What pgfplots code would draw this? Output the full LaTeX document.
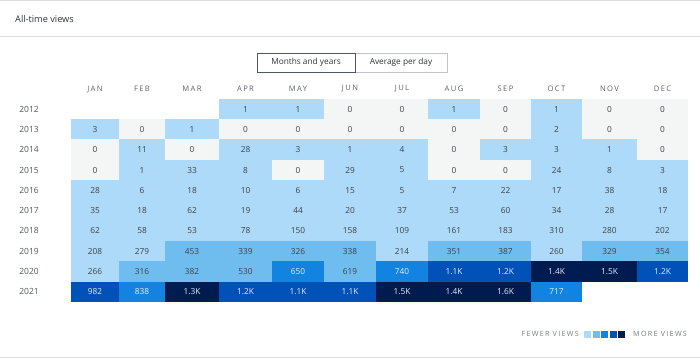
\documentclass[border=0pt]{standalone}
\usepackage{fontspec}
\setmainfont{Open Sans}
\newfontfamily\spacedfont[LetterSpace=18]{Open Sans}
\usepackage{pgfplots}
\usepackage{pgfplotstable}
\pgfplotsset{compat=1.18}

\definecolor{c0}{HTML}{F4F5F5}
\definecolor{c1}{HTML}{ADDAF8}
\definecolor{c2}{HTML}{6FBCEF}
\definecolor{c3}{HTML}{1283E0}
\definecolor{c4}{HTML}{0051B8}
\definecolor{c5}{HTML}{001B4F}
\definecolor{dk}{HTML}{3C434A}
\definecolor{wt}{HTML}{E4ECF4}
\definecolor{yearc}{HTML}{50575E}
\definecolor{monc}{HTML}{5C6268}
\definecolor{legc}{HTML}{787C82}
\definecolor{titc}{HTML}{2C3338}
\definecolor{rule}{HTML}{DCDCDE}
\definecolor{btnd}{HTML}{50575E}
\definecolor{btnl}{HTML}{C3C4C7}

% column centres and widths (pt, from grid left edge)
\def\colc#1{\ifcase#1 24\or 71\or 121\or 174.5\or 227\or 279\or 331\or 383\or 434.5\or 485.5\or 538.5\or 591.5\fi}
\def\colw#1{\ifcase#1 48\or 46\or 54\or 53\or 52\or 52\or 52\or 52\or 51\or 51\or 55\or 51\fi}

\pgfdeclareplotmark{cell}{%
  \pgfpathrectangle{\pgfpoint{-0.5*\cw*1pt-0.25pt}{-10.35pt}}{\pgfpoint{\cw*1pt+0.5pt}{20.7pt}}%
  \pgfusepathqfill}

% m = month index (0 = Jan), yr = year, v = views, lv = colour level, lab = shown text
\pgfplotstableread{
m yr v lv lab
3 2012 1 a 1
4 2012 1 a 1
5 2012 0 z 0
6 2012 0 z 0
7 2012 1 a 1
8 2012 0 z 0
9 2012 1 a 1
10 2012 0 z 0
11 2012 0 z 0
0 2013 3 a 3
1 2013 0 z 0
2 2013 1 a 1
3 2013 0 z 0
4 2013 0 z 0
5 2013 0 z 0
6 2013 0 z 0
7 2013 0 z 0
8 2013 0 z 0
9 2013 2 a 2
10 2013 0 z 0
11 2013 0 z 0
0 2014 0 z 0
1 2014 11 a 11
2 2014 0 z 0
3 2014 28 a 28
4 2014 3 a 3
5 2014 1 a 1
6 2014 4 a 4
7 2014 0 z 0
8 2014 3 a 3
9 2014 3 a 3
10 2014 1 a 1
11 2014 0 z 0
0 2015 0 z 0
1 2015 1 a 1
2 2015 33 a 33
3 2015 8 a 8
4 2015 0 z 0
5 2015 29 a 29
6 2015 5 a 5
7 2015 0 z 0
8 2015 0 z 0
9 2015 24 a 24
10 2015 8 a 8
11 2015 3 a 3
0 2016 28 a 28
1 2016 6 a 6
2 2016 18 a 18
3 2016 10 a 10
4 2016 6 a 6
5 2016 15 a 15
6 2016 5 a 5
7 2016 7 a 7
8 2016 22 a 22
9 2016 17 a 17
10 2016 38 a 38
11 2016 18 a 18
0 2017 35 a 35
1 2017 18 a 18
2 2017 62 a 62
3 2017 19 a 19
4 2017 44 a 44
5 2017 20 a 20
6 2017 37 a 37
7 2017 53 a 53
8 2017 60 a 60
9 2017 34 a 34
10 2017 28 a 28
11 2017 17 a 17
0 2018 62 a 62
1 2018 58 a 58
2 2018 53 a 53
3 2018 78 a 78
4 2018 150 a 150
5 2018 158 a 158
6 2018 109 a 109
7 2018 161 a 161
8 2018 183 a 183
9 2018 310 a 310
10 2018 280 a 280
11 2018 202 a 202
0 2019 208 a 208
1 2019 279 a 279
2 2019 453 b 453
3 2019 339 b 339
4 2019 326 b 326
5 2019 338 b 338
6 2019 214 a 214
7 2019 351 b 351
8 2019 387 b 387
9 2019 260 a 260
10 2019 329 b 329
11 2019 354 b 354
0 2020 266 a 266
1 2020 316 b 316
2 2020 382 b 382
3 2020 530 b 530
4 2020 650 c 650
5 2020 619 b 619
6 2020 740 c 740
7 2020 1100 d 1.1K
8 2020 1200 d 1.2K
9 2020 1400 e 1.4K
10 2020 1500 e 1.5K
11 2020 1200 d 1.2K
0 2021 982 d 982
1 2021 838 c 838
2 2021 1300 e 1.3K
3 2021 1200 d 1.2K
4 2021 1100 d 1.1K
5 2021 1100 d 1.1K
6 2021 1500 e 1.5K
7 2021 1400 e 1.4K
8 2021 1600 e 1.6K
9 2021 717 c 717
}\views

\pgfplotstablecreatecol[create col/assign/.code={%
  \getthisrow{m}\mm
  \edef\entry{\colc{\mm}}%
  \pgfkeyslet{/pgfplots/table/create col/next content}\entry}]{xc}\views
\pgfplotstablecreatecol[create col/assign/.code={%
  \getthisrow{m}\mm
  \edef\entry{\colw{\mm}}%
  \pgfkeyslet{/pgfplots/table/create col/next content}\entry}]{w}\views

\begin{document}
\begin{tikzpicture}[x=1pt,y=1pt]
\useasboundingbox (0,0) rectangle (700,360);
% frame rules
\draw[rule, line width=1pt] (0,359.5) -- (700,359.5);
\draw[rule, line width=1pt] (0,324) -- (700,324);
\draw[rule, line width=1pt] (0,2.5) -- (700,2.5);
\node[anchor=west, text=titc, font=\fontsize{9.2}{11}\selectfont, inner sep=0pt] at (15,341) {All-time views};
% toggle buttons
\draw[btnl, line width=0.8pt] (355,288) rectangle (447,307);
\draw[btnd, line width=0.8pt] (257,288) rectangle (355,307);
\node[text=titc, font=\fontsize{8.3}{10}\selectfont] at (306,297.5) {Months and years};
\node[text=titc, font=\fontsize{8.3}{10}\selectfont] at (401,297.5) {Average per day};

\begin{axis}[
  at={(71pt,58pt)}, anchor=south west,
  scale only axis, width=617pt, height=203pt,
  xmin=0, xmax=617, ymin=-0.5, ymax=9.5,
  axis line style={draw=none}, tick style={draw=none},
  xtick={24,71,121,174.5,227,279,331,383,434.5,485.5,538.5,591.5},
  xticklabels={JAN,FEB,MAR,APR,MAY,JUN,JUL,AUG,SEP,OCT,NOV,DEC},
  xticklabel pos=upper,
  x tick label style={anchor=center, yshift=10pt, font=\spacedfont\fontsize{7.6}{9}\selectfont, text=monc},
  ytick={0,1,2,3,4,5,6,7,8,9},
  yticklabels={2021,2020,2019,2018,2017,2016,2015,2014,2013,2012},
  y tick label style={anchor=center, xshift=-42pt, font=\fontsize{8.5}{10}\selectfont, text=yearc},
  clip=false,
]
\addplot[scatter, only marks, mark=cell,
  scatter src=explicit symbolic,
  scatter/classes={z={fill=c0},a={fill=c1},b={fill=c2},c={fill=c3},d={fill=c4},e={fill=c5}},
  visualization depends on={\thisrow{w} \as \cw}]
  table[x=xc, y expr={2021-\thisrow{yr}}, meta=lv]{\views};
% labels on light cells
\addplot[only marks, mark=none,
  restrict expr to domain={\thisrow{v}}{-1:640},
  point meta=explicit symbolic, nodes near coords,
  every node near coord/.append style={anchor=center, font=\fontsize{8.3}{10}\selectfont, text=dk}]
  table[x=xc, y expr={2021-\thisrow{yr}}, meta=lab]{\views};
% labels on dark cells
\addplot[only marks, mark=none,
  restrict expr to domain={\thisrow{v}}{640:100000},
  point meta=explicit symbolic, nodes near coords,
  every node near coord/.append style={anchor=center, font=\fontsize{8.3}{10}\selectfont, text=wt}]
  table[x=xc, y expr={2021-\thisrow{yr}}, meta=lab]{\views};
\end{axis}

% legend
\node[anchor=east, text=legc, font=\spacedfont\fontsize{7.2}{8}\selectfont, inner sep=0pt] at (579,26) {FEWER VIEWS};
\foreach \i/\c in {0/c1,1/c2,2/c3,3/c4,4/c5}{
  \fill[\c] (584+8.5*\i,22.5) rectangle ++(7,7);
}
\node[anchor=west, text=legc, font=\spacedfont\fontsize{7.2}{8}\selectfont, inner sep=0pt] at (633,26) {MORE VIEWS};
\end{tikzpicture}
\end{document}
